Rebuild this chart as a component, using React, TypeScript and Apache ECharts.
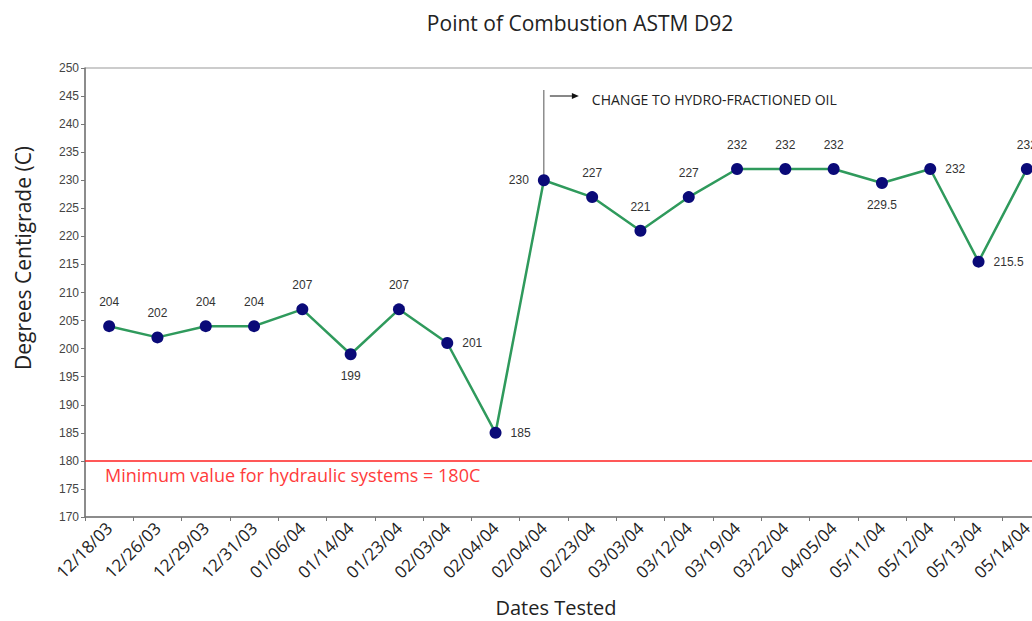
import React, { useEffect, useRef } from "react";
import * as echarts from "echarts";

const categories = [
  "12/18/03", "12/26/03", "12/29/03", "12/31/03", "01/06/04", "01/14/04", "01/23/04",
  "02/03/04", "02/04/04", "02/04/04", "02/23/04", "03/03/04", "03/12/04", "03/19/04",
  "03/22/04", "04/05/04", "05/11/04", "05/12/04", "05/13/04", "05/14/04",
];
const values = [
  204, 202, 204, 204, 207, 199, 207, 201, 185, 230, 227, 221, 227, 232, 232, 232, 229.5, 232, 215.5, 232,
];
const labelPlacement = [
  "top", "top", "top", "top", "top", "bottom", "top", "right", "right", "left",
  "top", "top", "top", "top", "top", "top", "bottom", "right", "right", "top",
];
const yTicks = { min: 170, max: 250, interval: 5 };
const minimumValue = 180;
const changeIndex = 9;
const titleText = "Point of Combustion ASTM D92";
const xName = "Dates Tested";
const yName = "Degrees Centigrade (C)";
const minLabel = "Minimum value for hydraulic systems = 180C";
const changeLabel = "CHANGE TO HYDRO-FRACTIONED OIL";

export default function App() {
  const ref = useRef<HTMLDivElement>(null);
  useEffect(() => {
    document.body.style.margin = "0";
    document.body.style.overflow = "hidden";
    const chart = echarts.init(ref.current!, null, { renderer: "svg" });
    const option: any = {
      animation: false,
      backgroundColor: "#ffffff",
      title: [
        {
          text: titleText,
          left: 575,
          top: 7,
          textAlign: "center",
          textStyle: { fontFamily: "Open Sans", fontSize: 21, fontWeight: "normal", color: "#222" },
        },
        {
          text: xName,
          left: 551,
          top: 592,
          textAlign: "center",
          textStyle: { fontFamily: "Open Sans", fontSize: 20, fontWeight: "normal", color: "#222" },
        },
      ],
      grid: { left: 85, right: 0, top: 68, bottom: 104, show: true, borderColor: "#999", borderWidth: 1 },
      xAxis: {
        type: "category",
        data: categories,
        boundaryGap: true,
        axisLine: { lineStyle: { color: "#777", width: 1.5 } },
        axisTick: { show: true, length: 4, lineStyle: { color: "#777" } },
        axisLabel: {
          rotate: 45,
          interval: 0,
          margin: 8,
          fontFamily: "Open Sans",
          fontSize: 17,
          color: "#222",
        },
        splitLine: { show: false },
      },
      yAxis: {
        type: "value",
        min: yTicks.min,
        max: yTicks.max,
        interval: yTicks.interval,
        axisLine: { show: true, lineStyle: { color: "#777", width: 1.5 } },
        axisTick: { show: true, length: 4, lineStyle: { color: "#777" } },
        axisLabel: { fontFamily: "Liberation Sans", fontSize: 12, color: "#444", margin: 6 },
        splitLine: { show: false },
      },
      series: [
        {
          type: "line",
          data: values.map((v, i) => ({
            value: v,
            label: { position: labelPlacement[i], distance: labelPlacement[i] === "top" ? 12 : labelPlacement[i] === "bottom" ? 10 : 9 },
          })),
          symbol: "circle",
          symbolSize: 12,
          itemStyle: { color: "#0a0a78" },
          lineStyle: { color: "#2f9a5c", width: 2.5 },
          label: {
            show: true,
            fontFamily: "Liberation Sans",
            fontSize: 12,
            color: "#333",
          },
          markLine: {
            silent: true,
            symbol: ["none", "none"],
            lineStyle: { color: "#ff2020", width: 1.5, type: "solid" },
            label: { show: false },
            data: [{ yAxis: minimumValue }],
          },
          z: 3,
        },
      ],
    };
    chart.setOption(option);
    const p = chart.convertToPixel({ seriesIndex: 0 }, [changeIndex, values[changeIndex]]) as number[];
    const pm = chart.convertToPixel({ seriesIndex: 0 }, [0, minimumValue]) as number[];
    const topY = 90;
    const arrowY = 96;
    chart.setOption({
      graphic: [
        { type: "line", shape: { x1: p[0], y1: p[1], x2: p[0], y2: topY }, style: { stroke: "#555", lineWidth: 1 } },
        { type: "line", shape: { x1: p[0] + 6, y1: arrowY, x2: p[0] + 30, y2: arrowY }, style: { stroke: "#111", lineWidth: 1 } },
        {
          type: "polygon",
          shape: { points: [[p[0] + 35, arrowY], [p[0] + 28, arrowY - 3], [p[0] + 28, arrowY + 3]] },
          style: { fill: "#111" },
        },
        {
          type: "text",
          x: p[0] + 48,
          y: arrowY + 3,
          style: { text: changeLabel, fontFamily: "Open Sans", fontSize: 14, fill: "#222", verticalAlign: "middle", align: "left" },
        },
        {
          type: "text",
          x: 105,
          y: pm[1] + 14,
          style: { text: minLabel, fontFamily: "Open Sans", fontSize: 18, fill: "#ff3b3b", verticalAlign: "middle", align: "left" },
        },
        {
          type: "text",
          x: 23,
          y: 258,
          rotation: Math.PI / 2,
          style: { text: yName, fontFamily: "Open Sans", fontSize: 21, fill: "#222", verticalAlign: "middle", align: "center" },
        },
      ],
    });
    return () => chart.dispose();
  }, []);
  return (
    <div style={{ width: 1032, height: 621, overflow: "hidden" }}>
      <div ref={ref} style={{ width: 1051, height: 621 }} />
    </div>
  );
}
